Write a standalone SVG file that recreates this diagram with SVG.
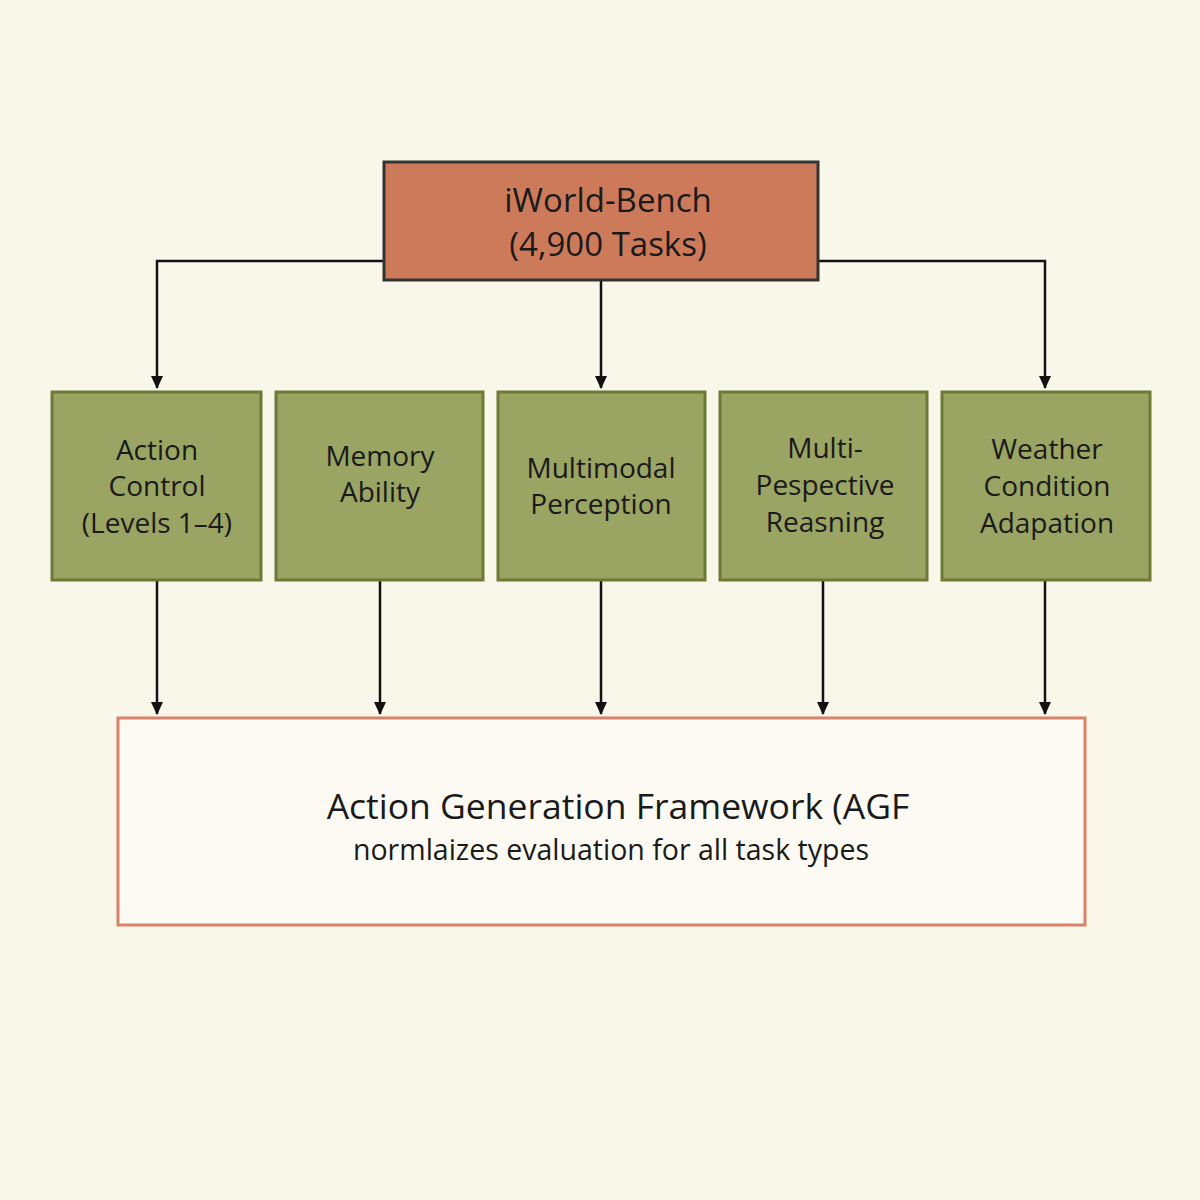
<svg xmlns="http://www.w3.org/2000/svg" width="1200" height="1200" viewBox="0 0 1200 1200">
<defs>
<marker id="a2" markerWidth="14" markerHeight="14" refX="12" refY="7" orient="auto" markerUnits="userSpaceOnUse"><path d="M0,1 L13,7 L0,13 z" fill="#111"/></marker>
</defs>
<style>
text{font-family:"Open Sans","Liberation Sans",sans-serif;fill:#1a1a1a;text-anchor:middle}
.g{fill:#9aa463;stroke:#6b7a35;stroke-width:3}
.gt{font-size:28px}
.c{fill:none;stroke:#111;stroke-width:2.5}
</style>
<rect width="1200" height="1200" fill="#f9f6ea"/>
<g id="connectors">
<path class="c" d="M384,261 H157 V388" marker-end="url(#a2)"/>
<path class="c" d="M818,261 H1045 V388" marker-end="url(#a2)"/>
<path class="c" d="M601,280 V388" marker-end="url(#a2)"/>
<path class="c" d="M157,580 V714" marker-end="url(#a2)"/>
<path class="c" d="M380,580 V714" marker-end="url(#a2)"/>
<path class="c" d="M601,580 V714" marker-end="url(#a2)"/>
<path class="c" d="M823,580 V714" marker-end="url(#a2)"/>
<path class="c" d="M1045,580 V714" marker-end="url(#a2)"/>
</g>
<g id="root">
<rect x="384" y="162" width="434" height="118" fill="#cd7a5a" stroke="#333" stroke-width="3"/>
<text x="608" y="212" font-size="33">iWorld-Bench</text>
<text x="608" y="256" font-size="33">(4,900 Tasks)</text>
</g>
<g id="n1"><rect class="g" x="52" y="392" width="209" height="188"/>
<text class="gt" x="157" y="460">Action</text><text class="gt" x="157" y="496">Control</text><text class="gt" x="157" y="533">(Levels 1–4)</text></g>
<g id="n2"><rect class="g" x="276" y="392" width="207" height="188"/>
<text class="gt" x="380" y="466">Memory</text><text class="gt" x="380" y="502">Ability</text></g>
<g id="n3"><rect class="g" x="498" y="392" width="207" height="188"/>
<text class="gt" x="601" y="478">Multimodal</text><text class="gt" x="601" y="514">Perception</text></g>
<g id="n4"><rect class="g" x="720" y="392" width="207" height="188"/>
<text class="gt" x="825" y="458">Multi-</text><text class="gt" x="825" y="495">Pespective</text><text class="gt" x="825" y="532">Reasning</text></g>
<g id="n5"><rect class="g" x="942" y="392" width="208" height="188"/>
<text class="gt" x="1047" y="459">Weather</text><text class="gt" x="1047" y="496">Condition</text><text class="gt" x="1047" y="533">Adapation</text></g>
<g id="agf"><rect x="118" y="718" width="967" height="207" fill="#fdfaf3" stroke="#d9826a" stroke-width="3"/>
<text x="618" y="819" font-size="35.5">Action Generation Framework (AGF</text>
<text x="611" y="860" font-size="28.5">normlaizes evaluation for all task types</text></g>
</svg>
